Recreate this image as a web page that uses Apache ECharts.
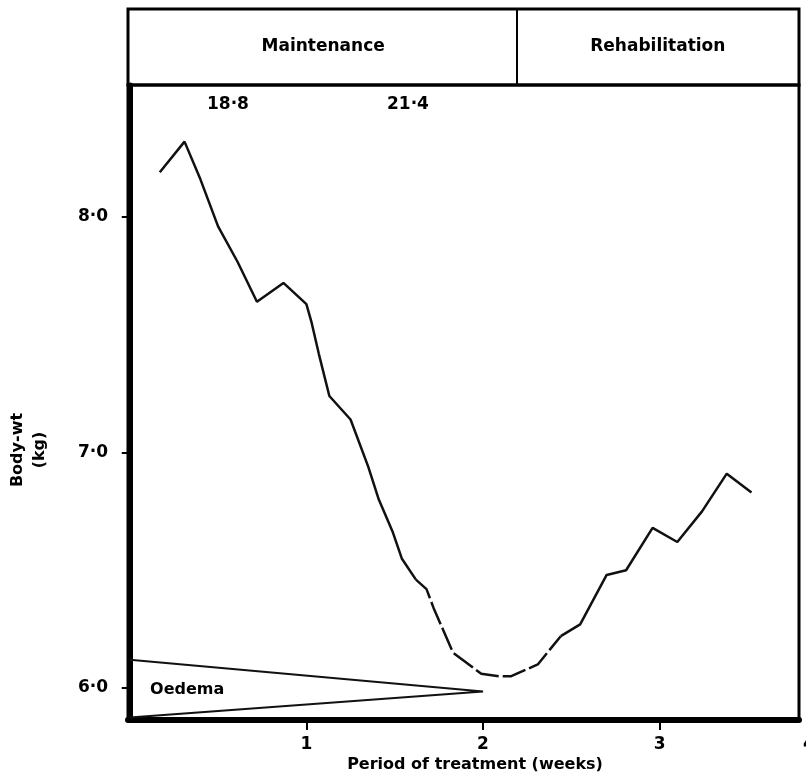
<!DOCTYPE html>
<html>
<head>
<meta charset="UTF-8">
<title>Body-wt during treatment</title>
<style type="text/css">
    body,html{ margin:0; padding:0; width:100vw; height:100vh; overflow:hidden; background:#fff;}
    #chart{ width:806px; height:777px;}
</style>
</head>
<body>
<div id="chart"></div>
<script src="https://cdn.jsdelivr.net/npm/echarts@6/dist/echarts.min.js"></script>
<script type="text/javascript">
// weeks of treatment and body weight (kg)
var weeks   = [0.17, 0.31, 0.40, 0.50, 0.61, 0.72, 0.87, 1.00, 1.03, 1.07, 1.13, 1.25, 1.35, 1.41, 1.49, 1.54,
               1.62, 1.68, 1.72, 1.83, 1.99, 2.09, 2.16, 2.31, 2.44, 2.55, 2.70, 2.81, 2.96, 3.10, 3.24, 3.38, 3.52];
var weights = [8.19, 8.32, 8.16, 7.96, 7.81, 7.64, 7.72, 7.63, 7.55, 7.42, 7.24, 7.14, 6.94, 6.80, 6.66, 6.55,
               6.46, 6.42, 6.34, 6.15, 6.06, 6.05, 6.05, 6.10, 6.22, 6.27, 6.48, 6.50, 6.68, 6.62, 6.75, 6.91, 6.83];
// part of the curve printed broken
var dashFrom = 16, dashTo = 24;

// oedema wedge
var oedemaWeeks = [0, 2.0, 0];
var oedemaKg    = [6.12, 5.985, 5.875];

// energy intake notes above the curve
var noteWeeks = [0.556, 1.575];
var noteText  = ['18·8', '21·4'];
var noteKg    = 8.476;

// treatment phases
var phaseNames = ['Maintenance', 'Rehabilitation'];
var phaseSplit = 2.19;

var xTicks = [1, 2, 3];
var yTicks = [6, 7, 8];
var xMin = -0.01, xMax = 3.789;
var yMin = 5.864, yMax = 8.5605;

var font = 'DejaVu Sans';

function pts(a, b) {
    var out = [];
    for (var i = a; i <= b; i++) out.push([weeks[i], weights[i]]);
    return out;
}
var curveStyle = { color: '#111', width: 2.5 };

var chart = echarts.init(document.getElementById('chart'));
var option = {
    animation: false,
    grid: [
        { left: 128, right: 7, top: 85, bottom: 57, show: true, borderColor: '#000', borderWidth: 3 },
        { left: 128, right: 7, top: 9, height: 76, show: true, borderColor: '#000', borderWidth: 3 }
    ],
    xAxis: [{
        type: 'value', gridIndex: 0, min: xMin, max: xMax,
        splitLine: { show: false },
        axisLine: { show: true, lineStyle: { color: '#000', width: 6 } },
        axisTick: { show: true, customValues: xTicks, length: 10, lineStyle: { color: '#000', width: 2 } },
        axisLabel: { customValues: xTicks, margin: 16, color: '#000', fontFamily: font, fontWeight: 'bold', fontSize: 17 }
    }, {
        type: 'value', gridIndex: 1, min: xMin, max: xMax, show: false
    }],
    yAxis: [{
        type: 'value', gridIndex: 0, min: yMin, max: yMax,
        splitLine: { show: false },
        axisLine: { show: true, lineStyle: { color: '#000', width: 5 } },
        axisTick: { show: true, customValues: yTicks, length: 8, lineStyle: { color: '#000', width: 2 } },
        axisLabel: {
            customValues: yTicks, margin: 20, color: '#000', fontFamily: font, fontWeight: 'bold', fontSize: 17,
            formatter: function (v) { return v.toFixed(1).replace('.', '·'); }
        }
    }, {
        type: 'value', gridIndex: 1, min: 0, max: 1, show: false
    }],
    graphic: [{
        type: 'text', x: 29, y: 450, rotation: Math.PI / 2,
        style: { text: 'Body-wt\n(kg)', textAlign: 'center', textVerticalAlign: 'middle',
                 fontFamily: font, fontWeight: 'bold', fontSize: 16, lineHeight: 22, fill: '#000' }
    }, {
        type: 'text', x: 475, y: 765,
        style: { text: 'Period of treatment (weeks)', textAlign: 'center', textVerticalAlign: 'middle',
                 fontFamily: font, fontWeight: 'bold', fontSize: 16, fill: '#000' }
    }, {
        type: 'text', x: 803, y: 745,
        style: { text: '4', textAlign: 'left', textVerticalAlign: 'middle',
                 fontFamily: font, fontWeight: 'bold', fontSize: 17, fill: '#000' }
    }],
    series: [{
        name: 'weight', type: 'line', xAxisIndex: 0, yAxisIndex: 0,
        data: pts(0, dashFrom), showSymbol: false, lineStyle: curveStyle
    }, {
        name: 'weight-broken', type: 'line', xAxisIndex: 0, yAxisIndex: 0,
        data: pts(dashFrom, dashTo), showSymbol: false,
        lineStyle: { color: '#111', width: 2.5, type: [24, 4] }
    }, {
        name: 'weight-rehab', type: 'line', xAxisIndex: 0, yAxisIndex: 0,
        data: pts(dashTo, weeks.length - 1), showSymbol: false, lineStyle: curveStyle
    }, {
        name: 'oedema', type: 'line', xAxisIndex: 0, yAxisIndex: 0,
        data: oedemaWeeks.map(function (w, i) { return [w, oedemaKg[i]]; }),
        showSymbol: false, lineStyle: { color: '#111', width: 2 }
    }, {
        name: 'oedema-label', type: 'scatter', xAxisIndex: 0, yAxisIndex: 0,
        data: [[0.115, 5.99]], symbolSize: 0, itemStyle: { opacity: 1 },
        label: { show: true, position: 'right', distance: 0, formatter: 'Oedema', opacity: 1,
                 color: '#000', fontFamily: font, fontWeight: 'bold', fontSize: 16 }
    }, {
        name: 'notes', type: 'scatter', xAxisIndex: 0, yAxisIndex: 0,
        data: noteWeeks.map(function (w, i) { return [w, noteKg, noteText[i]]; }),
        symbolSize: 0, itemStyle: { opacity: 1 },
        label: { show: true, position: 'inside', formatter: function (p) { return p.value[2]; }, opacity: 1,
                 color: '#000', fontFamily: font, fontWeight: 'bold', fontSize: 17 }
    }, {
        name: 'phases', type: 'line', xAxisIndex: 1, yAxisIndex: 1, data: [],
        markArea: {
            silent: true,
            itemStyle: { color: 'rgba(0,0,0,0)', borderWidth: 0 },
            label: { show: true, position: 'inside', color: '#000', fontFamily: font, fontWeight: 'bold', fontSize: 17 },
            data: [
                [{ name: phaseNames[0], xAxis: 0 }, { xAxis: phaseSplit }],
                [{ name: phaseNames[1], xAxis: phaseSplit }, { xAxis: xMax }]
            ]
        },
        markLine: {
            silent: true, symbol: 'none', label: { show: false },
            lineStyle: { color: '#000', width: 2, type: 'solid' },
            data: [{ xAxis: phaseSplit }]
        }
    }]
};
chart.setOption(option);
</script>
</body>
</html>
